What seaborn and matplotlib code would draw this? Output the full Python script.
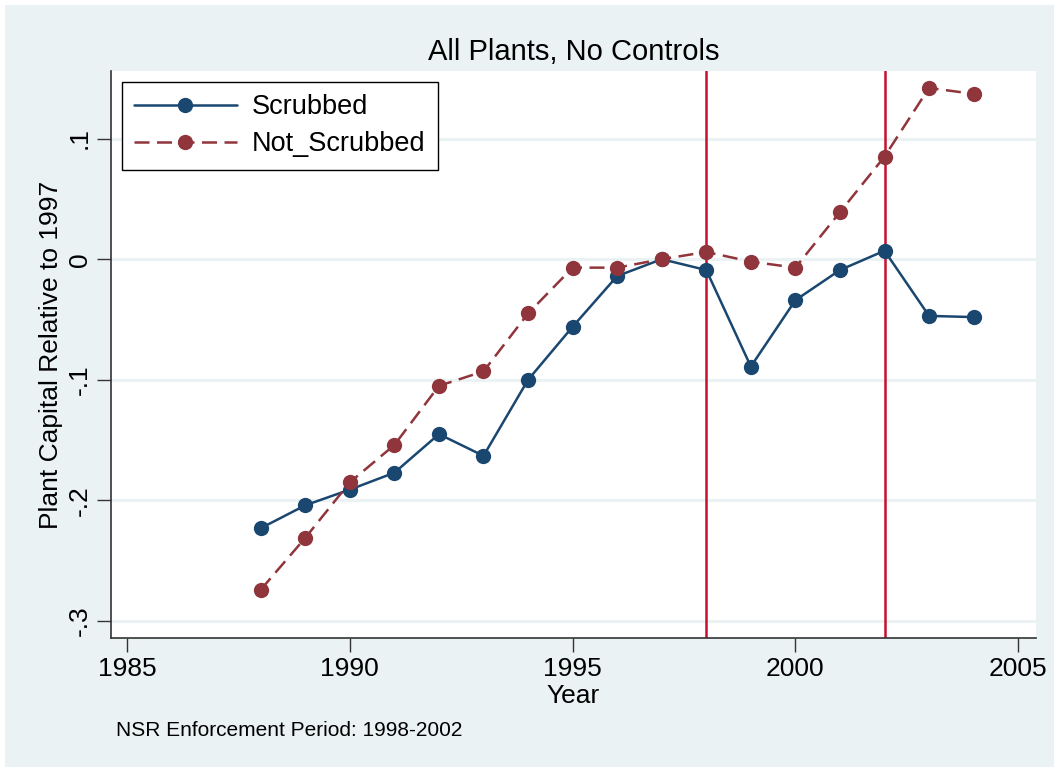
import matplotlib
matplotlib.use("Agg")
import matplotlib.pyplot as plt
import seaborn as sns
import pandas as pd
from matplotlib.patches import Rectangle
from matplotlib.lines import Line2D

years = list(range(1988, 2005))
scrubbed = [-0.223, -0.204, -0.191, -0.177, -0.145, -0.163, -0.100, -0.056,
            -0.014, 0.000, -0.009, -0.089, -0.034, -0.009, 0.007, -0.047, -0.048]
not_scrubbed = [-0.274, -0.231, -0.185, -0.154, -0.105, -0.093, -0.045, -0.007,
                -0.007, 0.000, 0.006, -0.002, -0.007, 0.039, 0.085, 0.142, 0.137]
series_names = ["Scrubbed", "Not_Scrubbed"]
enforcement_years = [1998, 2002]
x_ticks = [1985, 1990, 1995, 2000, 2005]
y_ticks = [-0.3, -0.2, -0.1, 0.0, 0.1]
y_tick_labels = ["-.3", "-.2", "-.1", "0", ".1"]

df = pd.DataFrame({
    "Year": years * 2,
    "value": scrubbed + not_scrubbed,
    "group": [series_names[0]] * len(years) + [series_names[1]] * len(years),
})

sns.set_theme(style="white")
plt.rcParams["font.family"] = ["Liberation Sans", "DejaVu Sans"]
plt.rcParams["text.color"] = "black"
plt.rcParams["axes.labelcolor"] = "black"
plt.rcParams["xtick.color"] = "black"
plt.rcParams["ytick.color"] = "black"

BG = "#EAF2F3"
NAVY = "#1A476F"
MAROON = "#90353B"
RED = "#C8102E"

fig = plt.figure(figsize=(10.59, 7.72), dpi=100)
fig.patch.set_facecolor("white")
fig.patches.append(Rectangle((5 / 1059, 5 / 772), 1049 / 1059, 762 / 772,
                             transform=fig.transFigure, facecolor=BG,
                             edgecolor="none", zorder=-10))
ax = fig.add_axes([111 / 1059, 134 / 772, 925 / 1059, 567 / 772])
ax.set_facecolor("white")

for yv in y_ticks:
    ax.axhline(yv, color=BG, lw=2.2, zorder=0)

for xv in enforcement_years:
    ax.axvline(xv, color=RED, lw=1.8, zorder=1)

palette = {series_names[0]: NAVY, series_names[1]: MAROON}
sns.lineplot(data=df, x="Year", y="value", hue="group", style="group",
             palette=palette, markers={series_names[0]: "o", series_names[1]: "o"},
             dashes={series_names[0]: "", series_names[1]: (6, 3)},
             markersize=11, markeredgewidth=0, lw=1.8, ax=ax, legend=False,
             zorder=3)

ax.set_xlim(1984.64, 2005.4)
ax.set_ylim(-0.314, 0.156)
ax.set_xticks(x_ticks)
ax.set_yticks(y_ticks)
ax.set_yticklabels(y_tick_labels, rotation=90, va="center")
ax.tick_params(axis="both", which="major", direction="out", length=10,
               width=1, color="#333333", labelsize=19, pad=4,
               bottom=True, left=True, labelcolor="black")
for s in ["top", "right"]:
    ax.spines[s].set_visible(False)
for s in ["left", "bottom"]:
    ax.spines[s].set_color("#333333")
    ax.spines[s].set_linewidth(1.2)

ax.set_xlabel("Year", fontsize=19, labelpad=2, color="black")
ax.set_ylabel("Plant Capital Relative to 1997", fontsize=19, labelpad=3, color="black")
ax.set_title("All Plants, No Controls", fontsize=21, pad=8, color="black")

handles = [
    Line2D([0], [0], color=NAVY, lw=1.8, marker="o", markersize=11, markeredgewidth=0),
    Line2D([0], [0], color=MAROON, lw=1.8, ls=(0, (6, 3)), marker="o", markersize=11,
           markeredgewidth=0),
]
leg = ax.legend(handles, series_names, loc="upper left", fontsize=19.5,
                handlelength=3.8, handletextpad=0.55, labelspacing=0.42,
                borderpad=0.45, borderaxespad=0.4, frameon=True, fancybox=False,
                bbox_to_anchor=(0.0, 1.0))
for t in leg.get_texts():
    t.set_color("black")
leg.get_frame().set_edgecolor("black")
leg.get_frame().set_linewidth(1.0)
leg.get_frame().set_facecolor("white")
leg.get_frame().set_alpha(1)

fig.text(116 / 1059, 1 - 731 / 772, "NSR Enforcement Period: 1998-2002",
         fontsize=15, va="center", ha="left", color="black")

fig.savefig("out.png", dpi=100, facecolor=fig.get_facecolor())
